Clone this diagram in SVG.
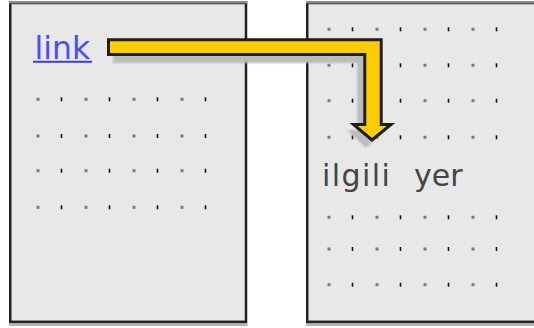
<svg xmlns="http://www.w3.org/2000/svg" width="534" height="328" viewBox="0 0 534 328">
<style>
.page{fill:#e8e8e8;stroke:#222;stroke-width:2.5}
.top{stroke:#8a8a8a;stroke-width:2.5}
.pshadow{fill:#b4b4b4}
.dg{fill:#7a7a7a}
.db{fill:#111}
.link{font-family:"DejaVu Sans",sans-serif;font-size:31.5px;fill:#4d4df5}
.dest{font-family:"DejaVu Sans",sans-serif;font-size:30px;fill:#444}
.arrow{fill:#ffcc00;stroke:#1e1e14;stroke-width:3;stroke-linejoin:miter}
.ashadow{fill:#bcbcbc}
</style>
<defs>
<filter id="blur" x="-10%" y="-10%" width="120%" height="120%"><feGaussianBlur stdDeviation="0.9"/></filter>
<g id="dotrow">
<rect class="dg" x="0" y="-1.5" width="3" height="3"/>
<rect class="db" x="24.2" y="-2" width="1.6" height="4"/>
<rect class="dg" x="48" y="-1.5" width="3" height="3"/>
<rect class="db" x="72.2" y="-2" width="1.6" height="4"/>
<rect class="dg" x="96" y="-1.5" width="3" height="3"/>
<rect class="db" x="120.2" y="-2" width="1.6" height="4"/>
<rect class="dg" x="144" y="-1.5" width="3" height="3"/>
<rect class="db" x="168.2" y="-2" width="1.6" height="4"/>
</g>
</defs>
<g id="page-left">
<rect class="pshadow" x="9" y="322" width="238.5" height="4"/>
<rect class="page" x="10.25" y="3" width="235.75" height="318.8"/>
<line class="top" x1="9" y1="2.2" x2="247.4" y2="2.2"/>
<text class="link" x="34.5" y="58.5">link</text>
<rect x="33" y="60.8" width="59" height="2" fill="#3a3aff"/>
<use href="#dotrow" x="36.5" y="99.3"/>
<use href="#dotrow" x="36.5" y="136"/>
<use href="#dotrow" x="36.5" y="170.7"/>
<use href="#dotrow" x="36.5" y="207.3"/>
</g>
<g id="page-right">
<rect class="pshadow" x="306" y="322" width="240" height="4"/>
<rect class="page" x="307.25" y="3" width="240" height="318.8"/>
<line class="top" x1="306" y1="2.2" x2="534" y2="2.2"/>
<use href="#dotrow" x="327.5" y="29.3"/>
<use href="#dotrow" x="327.5" y="65.3"/>
<use href="#dotrow" x="327.5" y="100.7"/>
<use href="#dotrow" x="327.5" y="137.3"/>
<text class="dest" x="322" y="185.5" xml:space="preserve"><tspan letter-spacing="1.4">ilgili</tspan> <tspan x="414">yer</tspan></text>
<use href="#dotrow" x="327.5" y="217.3"/>
<use href="#dotrow" x="327.5" y="249"/>
<use href="#dotrow" x="327.5" y="284.7"/>
</g>
<g id="connectors">
<path class="ashadow" filter="url(#blur)" d="M113,48 H375 V130 H385 L366,148 L347,130 H357.3 V63 H113 Z"/>
<path class="arrow" d="M108.5,39.8 H381.2 V124.5 H391 L372,140 L353.5,124.5 H364.8 V54.5 H108.5 Z"/>
</g>
</svg>
